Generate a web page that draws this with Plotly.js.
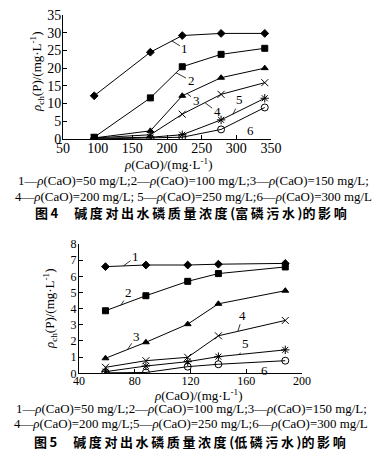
<!DOCTYPE html>
<html>
<head>
<meta charset="utf-8">
<script src="https://cdn.plot.ly/plotly-3.0.1.min.js"></script>
<style>html,body{margin:0;padding:0;background:#fff;}#chart{width:379px;height:456px;}</style>
</head>
<body>
<div id="chart"></div>
<script>
// ---------- Figure 4 data (富磷污水) ----------
const fig4X = [95, 176, 222, 278, 341];
const fig4S1 = [12.2, 24.5, 29.2, 29.8, 29.8];
const fig4S2 = [0.5, 11.6, 20.4, 23.9, 25.6];
const fig4S3 = [0.3, 2.3, 12.2, 17.3, 20.0];
const fig4S4 = [0.3, 1.2, 7.0, 12.6, 15.9];
const fig4S5 = [0.2, 0.5, 1.2, 5.4, 11.5];
const fig4S6 = [0.0, 0.2, 0.5, 2.7, 8.9];

// ---------- Figure 5 data (低磷污水) ----------
const fig5X = [59, 88, 118, 140, 188];
const fig5S1 = [6.6, 6.7, 6.7, 6.75, 6.8];
const fig5S2 = [3.87, 4.8, 5.69, 6.17, 6.58];
const fig5S3 = [0.93, 1.92, 3.04, 4.3, 5.11];
const fig5S4 = [0.37, 0.78, 0.99, 2.32, 3.27];
const fig5S5 = [0.1, 0.45, 0.72, 1.03, 1.45];
const fig5S6 = [0.03, 0.05, 0.41, 0.56, 0.78];

const seriesNames = ['1', '2', '3', '4', '5', '6'];
const symbols = ['diamond', 'square', 'triangle-up', 'x-thin-open', 'asterisk-open', 'circle-open'];

const xTitle = '<i>ρ</i>(CaO)/(mg·L<sup>-1</sup>)';
const yTitle = '<i>ρ</i><sub>ch</sub>(P)/(mg·L<sup>-1</sup>)';

const fig4Legend1 = '1—<i>ρ</i>(CaO)=50 mg/L;2—<i>ρ</i>(CaO)=100 mg/L;3—<i>ρ</i>(CaO)=150 mg/L;';
const fig4Legend2 = '4—<i>ρ</i>(CaO)=200 mg/L; 5—<i>ρ</i>(CaO)=250 mg/L;6—<i>ρ</i>(CaO)=300 mg/L';
const fig4Caption = '图\u20094　 碱\u2009度\u2009对\u2009出\u2009水\u2009磷\u2009质\u2009量\u2009浓\u2009度\u2009(富\u2009磷\u2009污\u2009水\u2009)的\u2009影\u2009响';
const fig5Legend1 = '1—<i>ρ</i>(CaO)=50 mg/L;2—<i>ρ</i>(CaO)=100 mg/L;3—<i>ρ</i>(CaO)=150 mg/L;';
const fig5Legend2 = '4—<i>ρ</i>(CaO)=200 mg/L;5—<i>ρ</i>(CaO)=250 mg/L;6—<i>ρ</i>(CaO)=300 mg/L';
const fig5Caption = '图\u20095　 碱\u2009度\u2009对\u2009出\u2009水\u2009磷\u2009质\u2009量\u2009浓\u2009度\u2009(低\u2009磷\u2009污\u2009水\u2009)的\u2009影\u2009响';

// curve label positions: [x, y] on curve (data) + text offset (px)
const fig4LabelAnchors = [[207, 27.7], [213, 18.7], [229, 12.8], [255, 10.2], [295, 6.9], [301, 4.9]];
const fig4LabelOffsets = [[13, 8], [15, 8], [9, 7], [12, 9], [7, -15], [13, 9]];
const fig5LabelAnchors = [[72, 6.65], [70, 4.2], [75, 1.5], [154, 2.6], [155, 1.15], [171, 0.7]];
const fig5LabelOffsets = [[12, -9], [8, -13], [9, -13], [5, -16], [6, -11], [3, 9]];

const W = 379, H = 456;
const serif = '"Liberation Serif", "Times New Roman", serif';

function makeTraces(xs, ys, xa, ya) {
  return ys.map((y, i) => ({
    x: xs, y: y, xaxis: xa, yaxis: ya, type: 'scatter', mode: 'lines+markers',
    name: seriesNames[i], showlegend: false,
    line: {color: '#000', width: 1},
    marker: {symbol: symbols[i], size: i >= 3 ? 7 : 6, color: '#000',
             line: {color: '#000', width: 1}}
  }));
}

const traces = [].concat(
  makeTraces(fig4X, [fig4S1, fig4S2, fig4S3, fig4S4, fig4S5, fig4S6], 'x', 'y'),
  makeTraces(fig5X, [fig5S1, fig5S2, fig5S3, fig5S4, fig5S5, fig5S6], 'x2', 'y2')
);

function axisBase(extra) {
  return Object.assign({
    showgrid: false, zeroline: false, showline: true, linecolor: '#000', linewidth: 1,
    ticks: 'inside', ticklen: 4, tickcolor: '#000', tickwidth: 1,
    tickfont: {family: serif, size: 14, color: '#000'}, fixedrange: true
  }, extra);
}

function px2x(p) { return p / W; }
function py2y(p) { return 1 - p / H; }

const annotations = [];
function curveLabels(anchors, offsets, xr, yr) {
  anchors.forEach((a, i) => {
    annotations.push({
      x: a[0], y: a[1], xref: xr, yref: yr, text: seriesNames[i],
      showarrow: true, arrowhead: 0, arrowwidth: 0.8, arrowcolor: '#000',
      ax: offsets[i][0], ay: offsets[i][1], standoff: 0,
      font: {family: serif, size: 13, color: '#000'}
    });
  });
}
curveLabels(fig4LabelAnchors, fig4LabelOffsets, 'x', 'y');
curveLabels(fig5LabelAnchors, fig5LabelOffsets, 'x2', 'y2');

function paperText(text, cx, cy, font, angle) {
  annotations.push({
    text: text, xref: 'paper', yref: 'paper', x: px2x(cx), y: py2y(cy),
    xanchor: 'center', yanchor: 'middle', showarrow: false, font: font,
    textangle: angle || 0
  });
}
const legFont = {family: serif, size: 12.9, color: '#000'};
const capFont = {family: '"Noto Sans CJK SC", sans-serif', size: 13, color: '#000', weight: 'bold'};

paperText(xTitle, 168, 164, {family: serif, size: 13, color: '#000'});
paperText(yTitle, 37, 72, {family: serif, size: 13, color: '#000'}, -90);
paperText(fig4Legend1, 193, 181, legFont);
paperText(fig4Legend2, 193, 197, legFont);
paperText(fig4Caption, 191, 213, capFont);

paperText(xTitle, 198, 395, {family: serif, size: 13, color: '#000'});
paperText(yTitle, 50, 309, {family: serif, size: 13, color: '#000'}, -90);
paperText(fig5Legend1, 191, 409, legFont);
paperText(fig5Legend2, 191, 424, legFont);
paperText(fig5Caption, 190, 441, capFont);

const layout = {
  width: W, height: H, margin: {l: 0, r: 0, t: 0, b: 0},
  paper_bgcolor: '#fff', plot_bgcolor: 'rgba(0,0,0,0)', showlegend: false,
  xaxis: axisBase({domain: [px2x(63), px2x(271)], range: [50, 350], dtick: 50, tick0: 50, anchor: 'y',
                   ticklabelstandoff: -4}),
  yaxis: axisBase({domain: [py2y(139), py2y(15)], range: [0, 35], dtick: 5, anchor: 'x',
                   ticklabelstandoff: -2}),
  xaxis2: axisBase({domain: [px2x(79), px2x(302)], range: [40, 200], dtick: 40, tick0: 40, anchor: 'y2',
                    ticklabelstandoff: -4, tickfont: {family: serif, size: 12, color: '#000'}}),
  yaxis2: axisBase({domain: [py2y(373.3), py2y(244)], range: [0, 8], dtick: 1, anchor: 'x2',
                    ticklabelstandoff: -1, tickfont: {family: serif, size: 12, color: '#000'}}),
  annotations: annotations
};

Plotly.newPlot('chart', traces, layout, {staticPlot: true, displayModeBar: false});
</script>
</body>
</html>
